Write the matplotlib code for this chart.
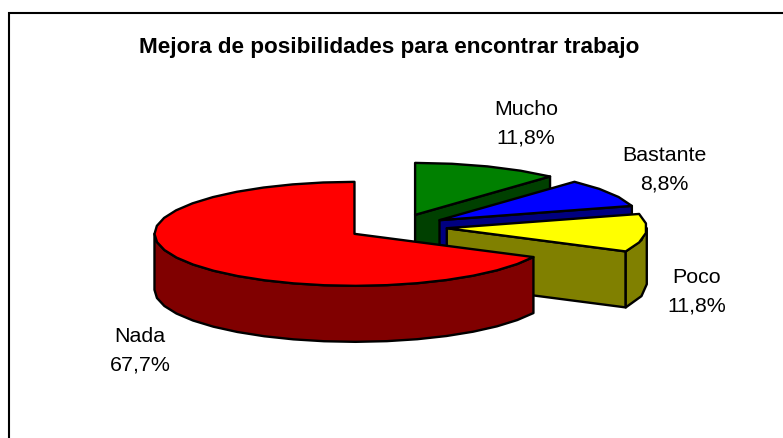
import numpy as np
import matplotlib
matplotlib.use('Agg')
import matplotlib.pyplot as plt
from matplotlib.patches import Polygon

# ===== data =====
labels = ['Mucho', 'Bastante', 'Poco', 'Nada']
values = [11.8, 8.8, 11.8, 67.7]
value_labels = ['11,8%', '8,8%', '11,8%', '67,7%']
title = 'Mejora de posibilidades para encontrar trabajo'

# ===== style =====
top_cols = ['#008000', '#0000FF', '#FFFF00', '#FF0000']
side_cols = ['#004000', '#000080', '#808000', '#800000']
label_pos = [(526, 124), (664, 170), (697, 292), (140, 351)]
CX, CY = 397, 228     # pie centre, pixels
RX, RY = 200, 52      # ellipse radii
DEPTH = 56
EXPLODE = 50
LW = 1.7

plt.rcParams['font.family'] = ['Liberation Sans', 'DejaVu Sans']

fig = plt.figure(figsize=(7.83, 4.39), dpi=100)
ax = fig.add_axes([0, 0, 1, 1])
ax.set_xlim(0, 783)
ax.set_ylim(439, 0)
ax.axis('off')

# chart frame: only top and left edges fall inside the picture
ax.plot([9, 9, 783], [439, 13.5, 13.5], color='black', lw=1.5, solid_joinstyle='miter', zorder=1)


def xy(th, ox, oy, r=1.0):
    # th in radians, clockwise from 12 o'clock
    return ox + r * RX * np.sin(th), oy - r * RY * np.cos(th)


def arc(a, b, ox, oy):
    n = max(int(abs(b - a) / np.radians(9)), 2)
    th = np.linspace(a, b, n + 1)
    return np.column_stack(xy(th, ox, oy))


def add(pts, col, z):
    ax.add_patch(Polygon(pts, closed=True, fc=col, ec='black', lw=LW, joinstyle='round', zorder=z))


total = float(sum(values))
edges = np.radians(np.concatenate([[0], np.cumsum(values)]) / total * 360)

for i in range(len(values)):
    a, b = edges[i], edges[i + 1]
    mid = (a + b) / 2
    ox = CX + EXPLODE * np.sin(mid)
    oy = CY - EXPLODE * RY / RX * np.cos(mid)
    z = 3 + i
    down = np.array([0, DEPTH])
    apex = np.array([ox, oy])
    end = np.array(xy(b, ox, oy))
    # cut face at the clockwise end, only seen when it looks at the viewer
    if np.sin(b) > 0.01:
        add([apex, end, end + down, apex + down], side_cols[i], z)
    # outer rim on the front half of the pie
    lo, hi = max(a, np.pi / 2), min(b, 3 * np.pi / 2)
    if hi > lo:
        rim = arc(lo, hi, ox, oy)
        add(np.vstack([rim, (rim + down)[::-1]]), side_cols[i], z)
    add(np.vstack([[apex], arc(a, b, ox, oy)]), top_cols[i], z)

ax.text(389, 47.5, title, ha='center', va='center', fontsize=16.2, fontweight='bold', zorder=10)
for name, val, (tx, ty) in zip(labels, value_labels, label_pos):
    ax.text(tx, ty, name + '\n' + val, ha='center', va='center', fontsize=15.4, linespacing=1.62, zorder=10)

fig.savefig('out.png', dpi=100)
plt.close()
